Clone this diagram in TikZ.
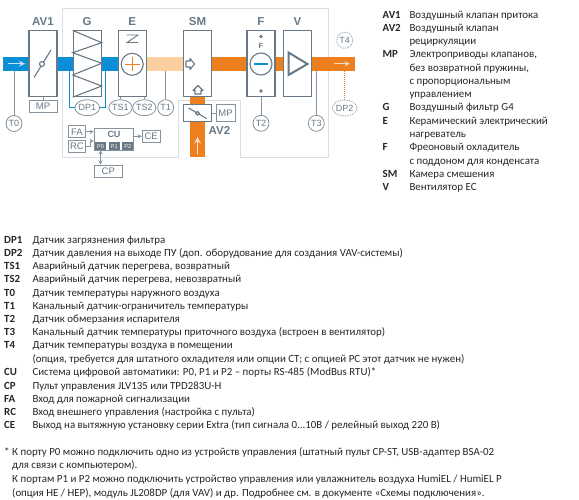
\documentclass[tikz,border=0pt]{standalone}
\usepackage{fontspec}
\setmainfont{Carlito}
\newfontfamily\schemefont{Liberation Sans}
\definecolor{framegray}{HTML}{687886}
\definecolor{hullgray}{HTML}{D8DEE2}
\definecolor{ductblue}{HTML}{0A8FD6}
\definecolor{ductorange}{HTML}{EE7F1F}
\definecolor{ductpeach}{HTML}{FBCF9F}
\tikzset{
  duct/.style={inner sep=0pt, minimum height=14pt},
  unitbox/.style={draw=framegray, line width=1.1pt, fill=white, inner sep=0pt, minimum width=28pt, minimum height=65.7pt},
  unittitle/.style={text=framegray, font=\schemefont\bfseries\fontsize{11.5}{12}\selectfont, inner sep=0pt},
  smallbox/.style={draw=framegray!80, line width=0.9pt, fill=white, inner sep=0pt, text=framegray, font=\schemefont\fontsize{9.5}{10}\selectfont},
  sensor/.style={draw=framegray!80, line width=0.8pt, fill=white, circle, inner sep=0pt, minimum size=16pt, text=framegray, font=\schemefont\fontsize{9}{10}\selectfont},
  ovalsensor/.style={sensor, ellipse, minimum width=23pt, minimum height=16pt},
  optsensor/.style={densely dotted},
  port/.style={fill=framegray, inner sep=0pt, minimum height=7.7pt, text=white, font=\schemefont\fontsize{5.5}{6}\selectfont},
  wire/.style={draw=framegray!80, line width=0.9pt},
  symbol/.style={draw=framegray, line width=1.1pt},
  legkey/.style={anchor=base west, inner sep=0pt, text=black!85, font=\bfseries\fontsize{10.9}{12}\selectfont},
  legtext/.style={anchor=base west, inner sep=0pt, text=black!85, font=\fontsize{10.9}{12}\selectfont},
}
\usetikzlibrary{shapes.geometric}
\begin{document}
\begin{tikzpicture}[x=1pt, y=-1pt]
  \useasboundingbox (0,0) rectangle (579,500);

  % Корпус
  \draw[hullgray, line width=0.8pt] (62.5,8) -- (328.5,8) -- (328.5,157) -- (240,157) -- (240,100) -- (178,100) -- (178,157) -- (62.5,157) -- cycle;

  % Каналы
  \node[duct, fill=ductblue, minimum width=114.7pt] (inlet) at (60.7,63.7) {};
  \node[duct, fill=ductpeach, minimum width=37pt] (warm) at (164.5,63.7) {};
  \node[duct, fill=ductorange, minimum width=143.5pt] (outlet) at (283.2,63.7) {};
  \node[duct, fill=ductorange, minimum width=14.4pt, minimum height=60.3pt] (recirc) at (197.5,126.9) {};
  \draw[ductblue!25, line width=1.6pt, -stealth] (8,63.7) -- (25,63.7);
  \draw[ductorange!30, line width=1.4pt, -stealth] (334,63.7) -- (350,63.7);
  \draw[ductorange!20, line width=1.8pt, -stealth] (197.5,154) -- (197.5,137);

  % Секции
  \node[unitbox] (AV1) at (43,63.8) {};
  \node[unitbox] (G) at (87.2,63.8) {};
  \node[unitbox] (E) at (132.2,63.8) {};
  \node[unitbox] (SM) at (197.5,63.8) {};
  \node[unitbox] (F) at (261,63.8) {};
  \node[unitbox] (V) at (297.5,63.8) {};
  \node[unitbox, minimum height=16.7pt] (AV2) at (197.5,113.3) {};

  \node[unittitle] (tAV1) at (43,22) {AV1};
  \node[unittitle] (tG) at (87.2,22) {G};
  \node[unittitle] (tE) at (132.2,22) {E};
  \node[unittitle] (tSM) at (197.5,22) {SM};
  \node[unittitle] (tF) at (261,22) {F};
  \node[unittitle] (tV) at (297.5,22) {V};
  \node[unittitle] (tAV2) at (219.5,130.5) {AV2};

  % Заслонки
  \draw[symbol] (34,77.5) -- (51,50);
  \draw[symbol, fill=white] (42,64) circle (2.5);
  \draw[symbol] (188.5,108) -- (206.5,118.5);
  \draw[symbol, fill=white] (197.5,113.3) circle (1.8);

  % Фильтр
  \draw[symbol] (G.north west) -- (G.east |- 0,42.7) -- (G.west |- 0,52.7) -- (G.east |- 0,63.3) -- (G.west |- 0,75) -- (G.east |- 0,86) -- (G.south west);

  % Нагреватель
  \draw[framegray, line width=0.9pt] (126.5,35) -- (138,35) -- (127,42.5) -- (138,42.5);
  \draw[symbol] (132.2,64.3) circle (11);
  \draw[ductorange, line width=1pt] (125,64.3) -- (139.5,64.3);
  \draw[ductorange, line width=1pt] (132.2,57) -- (132.2,71.5);

  % Смешение
  \draw[symbol, line join=round] (186,61) -- (190,61) -- (190,58.5) -- (194.5,64) -- (190,69.5) -- (190,67) -- (186,67) -- cycle;
  \draw[symbol, line join=round] (195,94) -- (195,90.5) -- (193,90.5) -- (198,85.5) -- (203,90.5) -- (201,90.5) -- (201,94) -- cycle;

  % Охладитель
  \fill[framegray] (261,36.5) circle (1.8);
  \node[text=framegray, inner sep=0pt, font=\schemefont\bfseries\fontsize{7.5}{8}\selectfont] (tFin) at (261,46) {F};
  \draw[symbol] (261,64) circle (11);
  \draw[ductblue, line width=1.3pt] (254,64) -- (268,64);
  \fill[framegray] (261,91) circle (1.8);

  % Вентилятор
  \draw[framegray, line width=2pt, line join=miter] (288.5,52.5) -- (307.5,64) -- (288.5,75) -- cycle;

  % Приводы
  \node[smallbox, minimum width=28pt, minimum height=12pt] (MP1) at (43,106.7) {MP};
  \node[smallbox, minimum width=19pt, minimum height=17pt] (MP2) at (225.5,113.3) {MP};
  \draw[wire] (AV1) -- (MP1);
  \draw[wire] (AV2) -- (MP2);

  % Датчики
  \node[sensor] (T0) at (14,123.5) {T0};
  \node[ovalsensor] (DP1) at (87.3,107.7) {DP1};
  \node[ovalsensor, minimum width=22pt] (TS1) at (120.5,107.7) {TS1};
  \node[ovalsensor, minimum width=22pt] (TS2) at (144.3,107.7) {TS2};
  \node[sensor] (T1) at (165.7,107.7) {T1};
  \node[sensor] (T2) at (261,123.3) {T2};
  \node[sensor] (T3) at (316.3,123.3) {T3};
  \node[sensor, optsensor] (T4) at (344.7,40.3) {T4};
  \node[ovalsensor, optsensor] (DP2) at (344.7,108) {DP2};

  \draw[wire] (T0) -- (T0 |- inlet.south);
  \draw[wire] (T1) -- (T1 |- warm.south);
  \draw[wire] (T2) -- (F);
  \draw[wire] (T3) -- (T3 |- outlet.south);
  \draw[wire] (TS1) -- (TS1 |- E.south);
  \draw[wire] (TS2) -- (TS2 |- E.south);
  \draw[ductblue, line width=0.9pt] (DP1.west) -| (69,70.7);
  \draw[ductblue, line width=0.9pt] (DP1.east) -| (105.3,70.7);
  \draw[ductorange, line width=1pt, densely dotted] (DP2) -- (DP2 |- outlet.south);

  % Автоматика
  \node[smallbox, minimum width=39.5pt, minimum height=22pt, text depth=0pt] (CU) at (114,139) {};
  \node[text=framegray, inner sep=0pt, font=\schemefont\bfseries\fontsize{9}{10}\selectfont] (tCU) at (114,134.8) {CU};
  \node[port, minimum width=11pt] (P0) at (100.5,146.2) {P0};
  \node[port, minimum width=10.7pt] (P1) at (114.3,146.2) {P1};
  \node[port, minimum width=11pt] (P2) at (127.8,146.2) {P2};
  \node[smallbox, minimum width=17.4pt, minimum height=11.7pt] (FA) at (77,131.8) {FA};
  \node[smallbox, minimum width=17.4pt, minimum height=11.7pt] (RC) at (77,146.5) {RC};
  \node[smallbox, minimum width=17.7pt, minimum height=11.4pt] (CE) at (151.2,136.3) {CE};
  \node[smallbox, minimum width=28pt, minimum height=12pt] (CP) at (108.3,171) {CP};

  \draw[wire, -stealth] (FA.east) -- (CU.west |- FA.east);
  \draw[wire, -stealth] (RC.east) -- (90,146.5) -- (90,141) -- (CU.west |- 0,141);
  \draw[wire, -stealth] (CU.east |- CE.west) -- (CE.west);
  \draw[wire, stealth-stealth] (P0.south) -- (P0.south |- CP.north);

  % Пояснения справа
  \node[legkey] (kAV1) at (382.5,18.2) {AV1};
  \node[legtext] (dAV1) at (409.3,18.2) {Воздушный клапан притока};
  \node[legkey] (kAV2) at (382.5,31.8) {AV2};
  \node[legtext] (dAV2) at (409.3,31.8) {Воздушный клапан};
  \node[legtext] (dAV2b) at (409.3,44.8) {рециркуляции};
  \node[legkey] (kMP) at (382.5,57.8) {MP};
  \node[legtext] (dMP) at (409.3,57.8) {Электроприводы клапанов,};
  \node[legtext] (dMPb) at (409.3,71.2) {без возвратной пружины,};
  \node[legtext] (dMPc) at (409.3,84.5) {с пропорциональным};
  \node[legtext] (dMPd) at (409.3,97.8) {управлением};
  \node[legkey] (kG) at (382.5,110.8) {G};
  \node[legtext] (dG) at (409.3,110.8) {Воздушный фильтр G4};
  \node[legkey] (kE) at (382.5,124.2) {E};
  \node[legtext] (dE) at (409.3,124.2) {Керамический электрический};
  \node[legtext] (dEb) at (409.3,137.5) {нагреватель};
  \node[legkey] (kF) at (382.5,150.5) {F};
  \node[legtext] (dF) at (409.3,150.5) {Фреоновый охладитель};
  \node[legtext] (dFb) at (409.3,164.2) {с поддоном для конденсата};
  \node[legkey] (kSM) at (382.5,177.2) {SM};
  \node[legtext] (dSM) at (409.3,177.2) {Камера смешения};
  \node[legkey] (kV) at (382.5,190.5) {V};
  \node[legtext] (dV) at (409.3,190.5) {Вентилятор EC};

  % Пояснения снизу
  \node[legkey] (kDP1) at (4,243.2) {DP1};
  \node[legtext] (dDP1) at (32.3,243.2) {Датчик загрязнения фильтра};
  \node[legkey] (kDP2) at (4,256.8) {DP2};
  \node[legtext] (dDP2) at (32.3,256.8) {Датчик давления на выходе ПУ (доп. оборудование для создания VAV-системы)};
  \node[legkey] (kTS1) at (4,269.8) {TS1};
  \node[legtext] (dTS1) at (32.3,269.8) {Аварийный датчик перегрева, возвратный};
  \node[legkey] (kTS2) at (4,282.8) {TS2};
  \node[legtext] (dTS2) at (32.3,282.8) {Аварийный датчик перегрева, невозвратный};
  \node[legkey] (kT0) at (4,296.5) {T0};
  \node[legtext] (dT0) at (32.3,296.5) {Датчик температуры наружного воздуха};
  \node[legkey] (kT1) at (4,309.5) {T1};
  \node[legtext] (dT1) at (32.3,309.5) {Канальный датчик-ограничитель температуры};
  \node[legkey] (kT2) at (4,322.5) {T2};
  \node[legtext] (dT2) at (32.3,322.5) {Датчик обмерзания испарителя};
  \node[legkey] (kT3) at (4,335.5) {T3};
  \node[legtext] (dT3) at (32.3,335.5) {Канальный датчик температуры приточного воздуха (встроен в вентилятор)};
  \node[legkey] (kT4) at (4,348.8) {T4};
  \node[legtext] (dT4) at (32.3,348.8) {Датчик температуры воздуха в помещении};
  \node[legtext] (dT4b) at (32.3,362) {(опция, требуется для штатного охладителя или опции СТ; с опцией РС этот датчик не нужен)};
  \node[legkey] (kCU) at (4,375.2) {CU};
  \node[legtext] (dCU) at (32.3,375.2) {Система цифровой автоматики: P0, P1 и P2 – порты RS-485 (ModBus RTU)*};
  \node[legkey] (kCP) at (4,389.2) {CP};
  \node[legtext] (dCP) at (32.3,389.2) {Пульт управления JLV135 или TPD283U-H};
  \node[legkey] (kFA) at (4,402.2) {FA};
  \node[legtext] (dFA) at (32.3,402.2) {Вход для пожарной сигнализации};
  \node[legkey] (kRC) at (4,415.2) {RC};
  \node[legtext] (dRC) at (32.3,415.2) {Вход внешнего управления (настройка с пульта)};
  \node[legkey] (kCE) at (4,428.5) {CE};
  \node[legtext] (dCE) at (32.3,428.5) {Выход на вытяжную установку серии Extra (тип сигнала 0...10В / релейный выход 220 В)};

  % Сноска
  \node[legtext] (nStar) at (4,455.8) {*};
  \node[legtext] (nA) at (12,455.8) {К порту P0 можно подключить одно из устройств управления (штатный пульт CP-ST, USB-адаптер BSA-02};
  \node[legtext] (nB) at (12,468.8) {для связи с компьютером).};
  \node[legtext] (nC) at (12,482.8) {К портам P1 и P2 можно подключить устройство управления или увлажнитель воздуха HumiEL /  HumiEL P};
  \node[legtext] (nD) at (12,496.2) {(опция HE / HEP), модуль JL208DP (для VAV) и др. Подробнее см. в документе «Схемы подключения».};
\end{tikzpicture}
\end{document}
